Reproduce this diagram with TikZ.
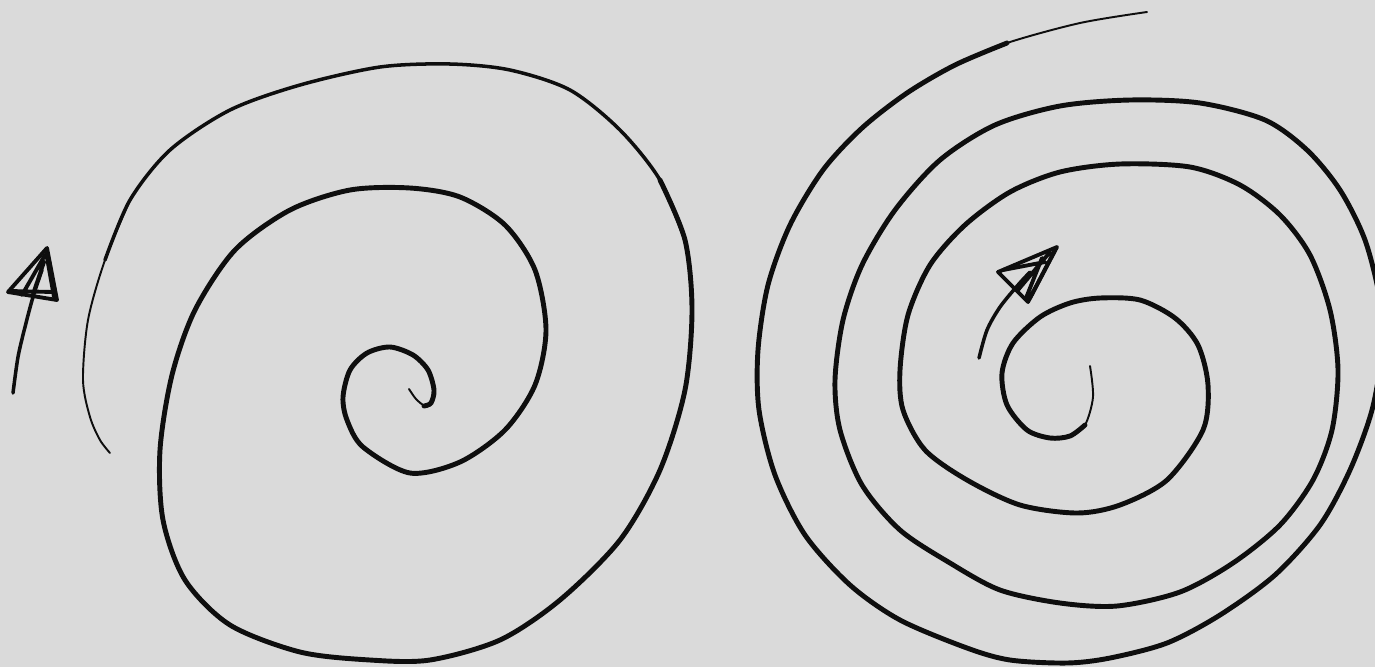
\documentclass[tikz,border=0pt]{standalone}
\definecolor{skbg}{HTML}{DADADA}
\definecolor{skink}{HTML}{0E0E0E}
\tikzset{
  thk/.style={draw=skink, line width=2.8pt, line cap=round, line join=round},
  med/.style={draw=skink, line width=2pt, line cap=round, line join=round},
  thn/.style={draw=skink, line width=1.1pt, line cap=round, line join=round},
  hd/.style={draw=skink, line width=2.2pt, line cap=round, line join=round},
}
\begin{document}
\begin{tikzpicture}[x=0.02cm,y=-0.02cm]
  \useasboundingbox (0,0) rectangle (1375,667);
  \clip (0,0) rectangle (1375,667);
  \fill[skbg] (0,0) rectangle (1375,667);
  % left spiral
  \draw[thn] plot[smooth] coordinates {(409,389) (416,399) (425,406) (431,403)};
  \draw[thk] plot[smooth] coordinates {(424,406) (431,403) (434,390) (428,370) (413,355) (390,347) (367,353) (350,370) (343,397) (347,420) (363,447) (410,473) (460,462) (505,430) (535,385) (546,330) (535,270) (505,225) (460,197) (410,188) (350,190) (290,210) (235,250) (195,310) (172,375) (160,450) (163,520) (185,580) (230,625) (300,652) (370,660) (430,660) (500,640) (560,600) (620,540) (660,470) (685,390) (692,310) (685,240) (660,180)};
  \draw[med] plot[smooth] coordinates {(685,240) (660,180) (620,130) (570,90) (510,70) (450,64) (380,67) (300,85) (230,110) (170,150) (130,200) (105,260)};
  \draw[thn] plot[smooth] coordinates {(130,200) (105,260) (88,320) (83,380) (90,417) (100,440) (110,453)};
  % left arrow
  \draw[med] plot[smooth] coordinates {(13,393) (18,357) (25,327) (33,297) (42,270)};
  \draw[hd] (47,248) -- (8,292) -- (57,300) -- cycle;
  \draw[hd] (45,255) -- (22,295) (44,262) -- (33,294) (10,291) -- (53,292) (46,252) -- (54,297);
  % right spiral
  \draw[thn] plot[smooth] coordinates {(1090,366) (1093,397) (1085,425) (1070,436)};
  \draw[thk] plot[smooth] coordinates {(1085,425) (1070,436) (1050,438) (1027,430) (1007,405) (1002,373) (1013,343) (1040,317) (1070,303) (1100,298) (1140,300) (1175,318) (1198,345) (1208,385) (1203,430) (1167,480) (1120,505) (1077,513) (1020,505) (967,480) (925,450) (903,410) (900,370) (908,315) (930,265) (965,225) (1010,192) (1060,172) (1120,164) (1190,167) (1240,185) (1280,215) (1310,255) (1330,310) (1338,370) (1332,430) (1313,480) (1280,525) (1233,563) (1180,592) (1117,606) (1060,603) (1000,590) (950,563) (900,530) (862,485) (840,430) (835,380) (843,320) (862,265) (895,210) (940,160) (995,125) (1060,106) (1130,100) (1200,103) (1265,120) (1307,150) (1340,190) (1365,240) (1380,300) (1382,350) (1372,410) (1350,470) (1320,525) (1275,575) (1220,615) (1167,643) (1110,658) (1067,663) (1010,660) (967,648) (900,620) (850,585) (805,535) (775,475) (759,410) (758,350) (768,285) (790,225) (823,170) (862,128) (907,93) (955,65) (1007,43)};
  \draw[thn] plot[smooth] coordinates {(955,65) (1007,43) (1080,23) (1147,12)};
  % right arrow
  \draw[med] plot[smooth] coordinates {(979,358) (987,330) (1000,307) (1018,285) (1030,272)};
  \draw[hd] (1057,247) -- (998,272) -- (1028,302) -- cycle;
  \draw[hd] (1050,252) -- (1018,290) (1042,258) -- (1026,298) (1003,270) -- (1045,262) (1055,250) -- (1030,298);
\end{tikzpicture}
\end{document}
